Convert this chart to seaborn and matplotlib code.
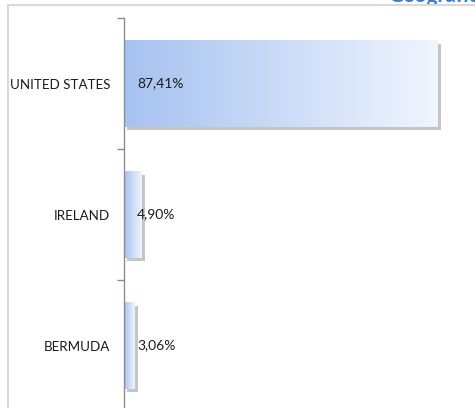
import numpy as np
import pandas as pd
import matplotlib
matplotlib.use("Agg")
import matplotlib.pyplot as plt
import matplotlib.patheffects as pe
from matplotlib.colors import LinearSegmentedColormap
from matplotlib.lines import Line2D
import seaborn as sns

countries = ["UNITED STATES", "IRELAND", "BERMUDA"]
shares = [87.41, 4.90, 3.06]
title = "Geografica"

df = pd.DataFrame({"country": countries, "share": shares})

sns.set_style("white")
plt.rcParams["font.family"] = ["Lato", "DejaVu Sans"]

W, H = 475, 408
fig = plt.figure(figsize=(W / 100, H / 100), dpi=100)
# axes placed in pixels: left 124, top 18, bottom runs just past the image
ax = fig.add_axes([124 / W, -3 / H, (W - 124) / W, 393 / H])

sns.barplot(data=df, x="share", y="country", orient="h", width=0.66,
            color="#b8cef5", ax=ax)

xmax = 98

# gradient fill + drop shadow on each bar
cmap = LinearSegmentedColormap.from_list("excel_blue", ["#a6c2f0", "#f0f5fe"])
grad = np.linspace(0, 1, 256).reshape(1, -1)
for p in ax.patches:
    x0, y0 = p.get_x(), p.get_y()
    x1, y1 = x0 + p.get_width(), y0 + p.get_height()
    p.set_facecolor("none")
    p.set_edgecolor("none")
    p.set_path_effects([
        pe.SimplePatchShadow(offset=(2.5, -2.5), shadow_rgbFace="#8c8c8c", alpha=0.5),
        pe.Normal(),
    ])
    im = ax.imshow(grad, extent=[x0, x1, y1, y0], aspect="auto", cmap=cmap,
                   zorder=p.get_zorder() + 0.1, interpolation="bilinear")
    im.set_clip_path(p)

ax.set_xlim(0, xmax)
ax.set_ylim(2.5, -0.5)
ax.set_aspect("auto")

# value labels
for i, v in enumerate(shares):
    ax.text(3.6, i, f"{v:.2f}%".replace(".", ","), va="center", ha="left",
            fontsize=10, color="#1a1a1a", zorder=5)

# excel style: ticks at category borders, labels at centres
ax.set_yticks([-0.5, 0.5, 1.5, 2.5])
ax.set_yticklabels([])
ax.set_yticks([0, 1, 2], minor=True)
ax.set_yticklabels(countries, minor=True, fontsize=9.6, color="#1a1a1a")
ax.tick_params(axis="y", which="major", length=5, width=1, color="#8c8c8c",
               direction="out", left=True)
ax.tick_params(axis="y", which="minor", length=0, pad=10)
ax.set_xticks([])
ax.set_xlabel("")
ax.set_ylabel("")
for s in ["top", "right", "bottom"]:
    ax.spines[s].set_visible(False)
ax.spines["left"].set_color("#8c8c8c")
ax.spines["left"].set_linewidth(1)

# title, mostly cut off at the top edge
fig.text(388 / W, 1 - 2.5 / H, title, color="#3b7dd0", fontweight="bold",
         fontsize=15, va="baseline", ha="left")

# chart border (partly cropped)
fig.add_artist(Line2D([8 / W, 1], [1 - 5 / H, 1 - 5 / H], color="#d9d9d9",
                      lw=1.5, transform=fig.transFigure, zorder=10))
fig.add_artist(Line2D([8 / W, 8 / W], [1 - 5 / H, 0], color="#d9d9d9",
                      lw=1.5, transform=fig.transFigure, zorder=10))
fig.add_artist(Line2D([8 / W, 1], [1 - 8 / H, 1 - 8 / H], color="white",
                      lw=3.5, transform=fig.transFigure, zorder=9))

fig.savefig("out.png", dpi=100)
